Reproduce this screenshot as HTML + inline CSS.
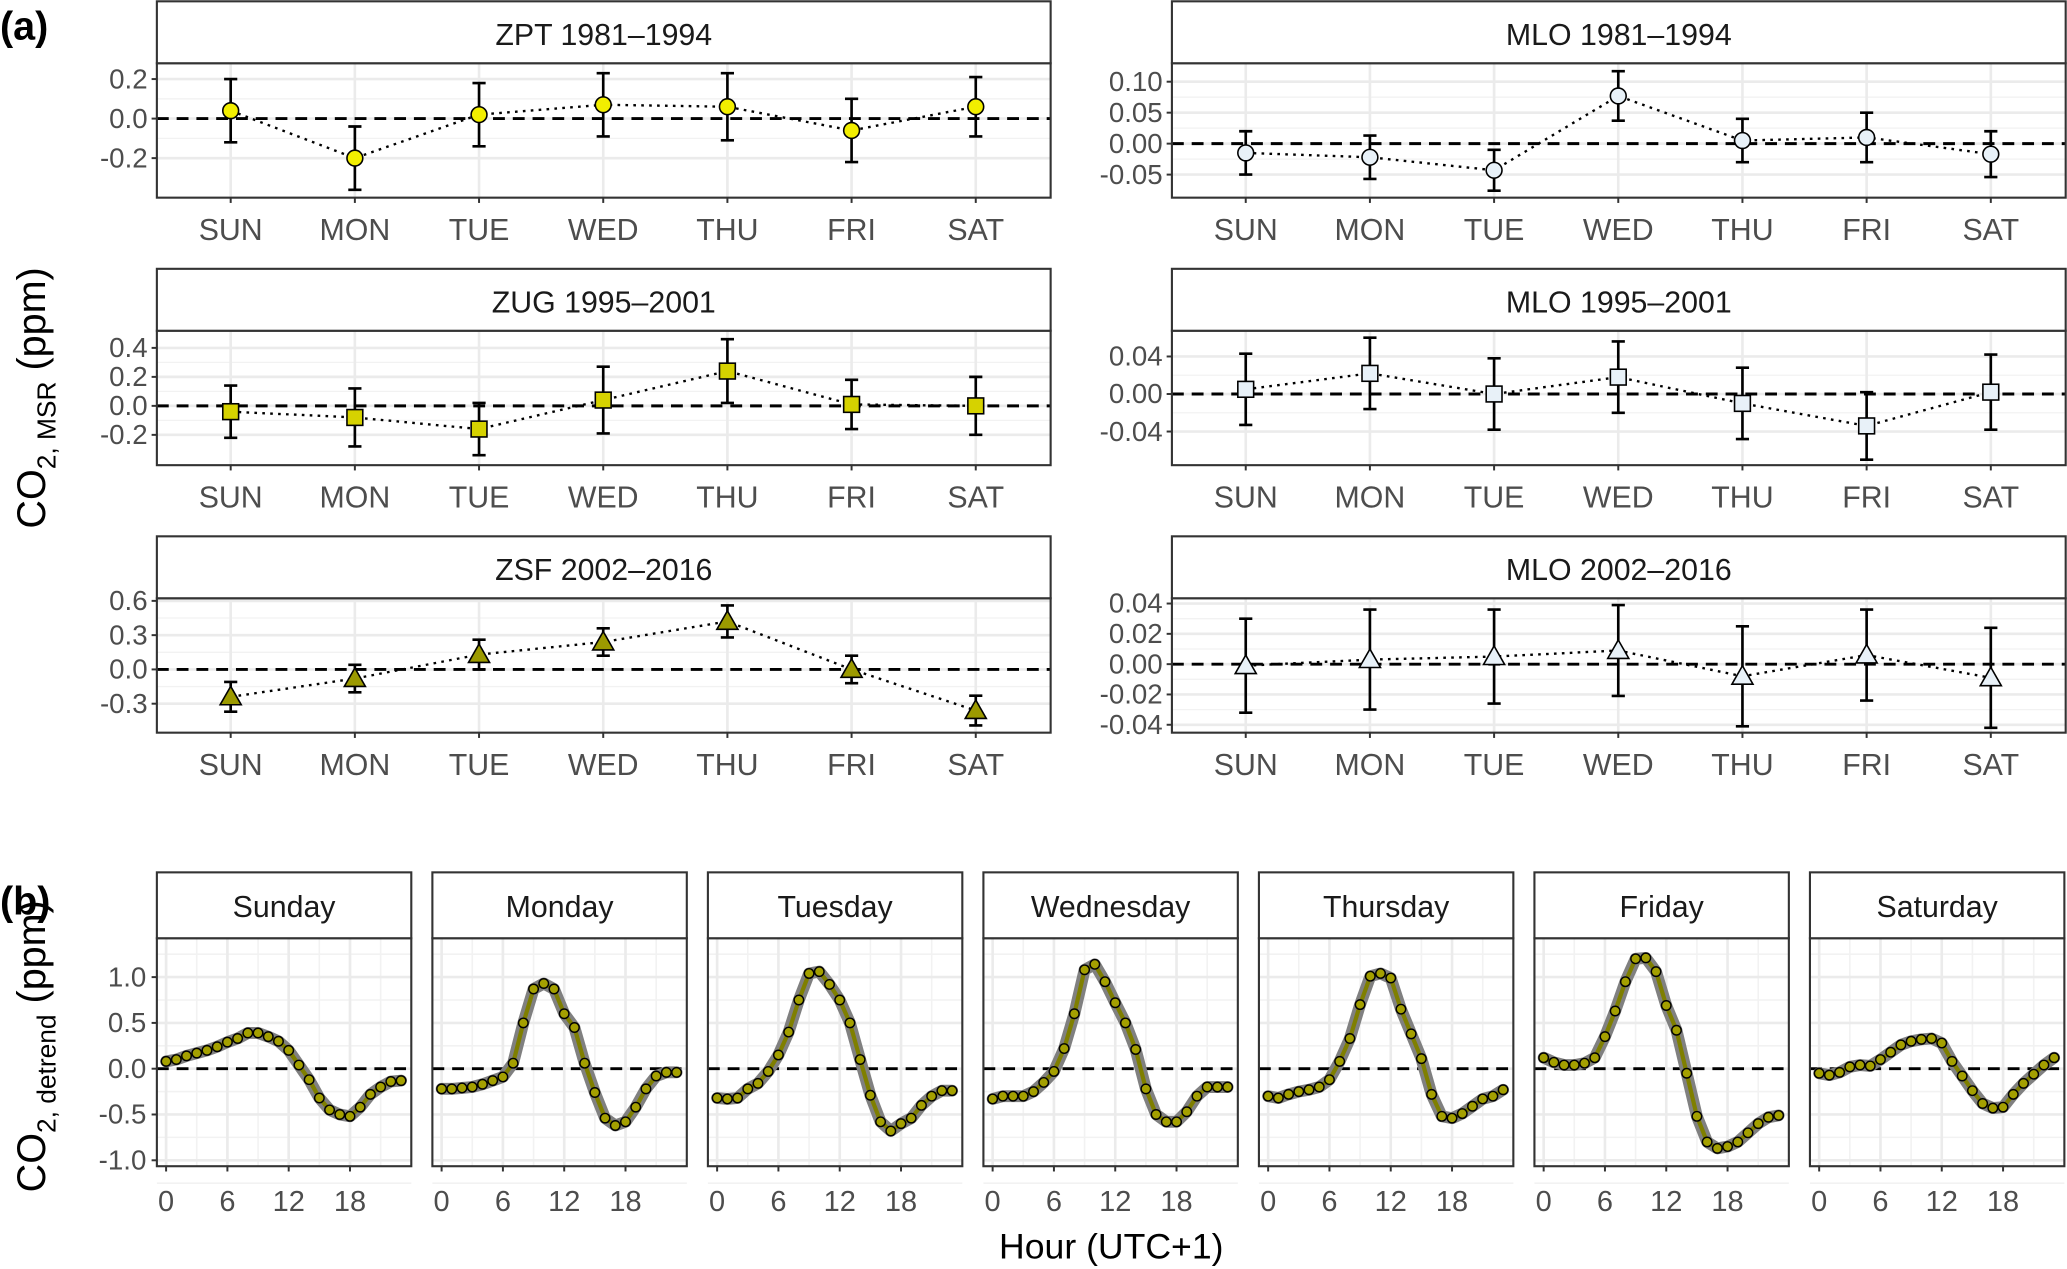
<!DOCTYPE html>
<html><head><meta charset="utf-8"><style>
html,body{margin:0;padding:0;background:#fff;}
svg{display:block;font-family:"Liberation Sans",sans-serif;}
</style></head><body>
<svg id="chart" width="2067" height="1269" viewBox="0 0 1568 963" preserveAspectRatio="none" xmlns="http://www.w3.org/2000/svg">
<text x="0" y="30" font-size="30" font-weight="bold">(a)</text>
<text x="0" y="694" font-size="30" font-weight="bold">(b)</text>
<text transform="translate(34,302) rotate(-90)" text-anchor="middle" font-size="30">CO<tspan font-size="20" dy="8">2, MSR</tspan><tspan dy="-8"> (ppm)</tspan></text>
<text transform="translate(34,794) rotate(-90)" text-anchor="middle" font-size="30">CO<tspan font-size="20" dy="8">2, detrend</tspan><tspan dy="-8"> (ppm)</tspan></text>
<text x="843" y="955" text-anchor="middle" font-size="27">Hour (UTC+1)</text>
</svg>
<script>
const days=["SUN","MON","TUE","WED","THU","FRI","SAT"];
const zptVals=[0.04,-0.20,0.02,0.07,0.06,-0.06,0.06];
const zptErr=[0.16,0.16,0.16,0.16,0.17,0.16,0.15];
const zptTicks=[0.2,0.0,-0.2];
const zugVals=[-0.04,-0.08,-0.16,0.04,0.24,0.01,0.0];
const zugErr=[0.18,0.20,0.18,0.23,0.22,0.17,0.20];
const zugTicks=[0.4,0.2,0.0,-0.2];
const zsfVals=[-0.24,-0.08,0.13,0.24,0.42,0.0,-0.36];
const zsfErr=[0.13,0.12,0.13,0.12,0.14,0.12,0.13];
const zsfTicks=[0.6,0.3,0.0,-0.3];
const mlo1Vals=[-0.015,-0.022,-0.043,0.077,0.005,0.010,-0.017];
const mlo1Err=[0.035,0.035,0.033,0.040,0.035,0.040,0.037];
const mlo1Ticks=[0.10,0.05,0.00,-0.05];
const mlo2Vals=[0.005,0.022,0.0,0.018,-0.010,-0.034,0.002];
const mlo2Err=[0.038,0.038,0.038,0.038,0.038,0.036,0.040];
const mlo2Ticks=[0.04,0.00,-0.04];
const mlo3Vals=[-0.001,0.003,0.005,0.009,-0.008,0.006,-0.009];
const mlo3Err=[0.031,0.033,0.031,0.030,0.033,0.030,0.033];
const mlo3Ticks=[0.04,0.02,0.00,-0.02,-0.04];
const weekdays=["Sunday","Monday","Tuesday","Wednesday","Thursday","Friday","Saturday"];
const sunH=[0.08,0.10,0.14,0.17,0.20,0.24,0.29,0.33,0.39,0.39,0.35,0.30,0.20,0.04,-0.12,-0.32,-0.45,-0.50,-0.52,-0.42,-0.28,-0.20,-0.14,-0.13];
const monH=[-0.22,-0.22,-0.21,-0.20,-0.17,-0.13,-0.09,0.06,0.50,0.87,0.93,0.87,0.60,0.45,0.06,-0.26,-0.54,-0.62,-0.58,-0.42,-0.22,-0.08,-0.04,-0.04];
const tueH=[-0.32,-0.33,-0.32,-0.22,-0.16,-0.03,0.15,0.40,0.75,1.04,1.06,0.92,0.75,0.50,0.10,-0.29,-0.58,-0.68,-0.60,-0.54,-0.40,-0.30,-0.24,-0.24];
const wedH=[-0.33,-0.30,-0.30,-0.30,-0.25,-0.15,-0.03,0.22,0.60,1.08,1.14,0.95,0.72,0.50,0.21,-0.22,-0.50,-0.58,-0.58,-0.47,-0.30,-0.20,-0.20,-0.20];
const thuH=[-0.30,-0.32,-0.28,-0.25,-0.23,-0.20,-0.12,0.08,0.33,0.70,1.01,1.04,0.99,0.65,0.38,0.11,-0.28,-0.52,-0.54,-0.49,-0.41,-0.33,-0.30,-0.23];
const friH=[0.12,0.07,0.04,0.04,0.06,0.12,0.35,0.63,0.95,1.20,1.21,1.06,0.69,0.42,-0.05,-0.52,-0.80,-0.87,-0.85,-0.80,-0.70,-0.60,-0.53,-0.51];
const satH=[-0.05,-0.07,-0.04,0.02,0.04,0.03,0.10,0.18,0.26,0.30,0.32,0.33,0.28,0.08,-0.08,-0.24,-0.38,-0.43,-0.42,-0.28,-0.16,-0.06,0.04,0.12];
const hourTicks=[0,6,12,18];
const detTicks=[1.0,0.5,0.0,-0.5,-1.0];

const svg=document.getElementById('chart');
const NS='http://www.w3.org/2000/svg';
function mk(tag,attrs,parent){const e=document.createElementNS(NS,tag);for(const k in attrs)e.setAttribute(k,attrs[k]);(parent||svg).appendChild(e);return e;}
function fmt(v,d){let s=v.toFixed(d);if(s.startsWith('-0')&&parseFloat(s)===0)s=s.slice(1);return s;}

function panelA(cfg){
  const g=mk('g',{});
  
  
  const L=cfg.left,R=cfg.left+678,T=cfg.top,SB=cfg.top+47,B=cfg.bottom;
  const xs=i=>L+56+i*94.2;
  const ys=v=>cfg.zero-v*cfg.ppu;
  mk('rect',{x:L,y:SB,width:R-L,height:B-SB,fill:'#fff'},g);
  for(let i=0;i<cfg.ticks.length-1;i++){const m=(cfg.ticks[i]+cfg.ticks[i+1])/2;mk('line',{x1:L,x2:R,y1:ys(m),y2:ys(m),stroke:'#f2f2f2','stroke-width':1},g);}
  cfg.ticks.forEach(t=>mk('line',{x1:L,x2:R,y1:ys(t),y2:ys(t),stroke:'#ebebeb','stroke-width':2},g));
  days.forEach((d,i)=>mk('line',{x1:xs(i),x2:xs(i),y1:SB,y2:B,stroke:'#ebebeb','stroke-width':2},g));
  mk('line',{x1:L,x2:R,y1:ys(0),y2:ys(0),stroke:'#000','stroke-width':2.2,'stroke-dasharray':'9,6'},g);
  const pts=cfg.vals.map((v,i)=>xs(i)+','+ys(v)).join(' ');
  const line=mk('polyline',{points:pts,fill:'none',stroke:'#000','stroke-width':1.8,'stroke-dasharray':'2,4'},g);
  
  
  cfg.vals.forEach((v,i)=>{
    const x=xs(i),e=cfg.errs[i];
    const eb=mk('path',{d:`M${x-5},${ys(v+e)}H${x+5}M${x},${ys(v+e)}V${ys(v-e)}M${x-5},${ys(v-e)}H${x+5}`,stroke:'#000','stroke-width':2,fill:'none'},g);
    
    
    let m;const y=ys(v);
    if(cfg.shape==='circle')m=mk('circle',{cx:x,cy:y,r:6},g);
    else if(cfg.shape==='square')m=mk('rect',{x:x-6,y:y-6,width:12,height:12},g);
    else m=mk('polygon',{points:`${x},${y-8} ${x+8},${y+6} ${x-8},${y+6}`},g);
    m.setAttribute('fill',cfg.fill);m.setAttribute('stroke','#000');m.setAttribute('stroke-width',1.2);
    
    
  });
  mk('rect',{x:L,y:SB,width:R-L,height:B-SB,fill:'none',stroke:'#333','stroke-width':1.6},g);
  const st=mk('rect',{x:L,y:T,width:R-L,height:SB-T,fill:'#fff',stroke:'#333','stroke-width':1.6},g);
  
  
  const tt=mk('text',{x:(L+R)/2,y:T+33,'text-anchor':'middle','font-size':23,fill:'#1a1a1a'},g);
  tt.textContent=cfg.title;
  
  
  cfg.ticks.forEach(t=>{
    mk('line',{x1:L-4,x2:L,y1:ys(t),y2:ys(t),stroke:'#333','stroke-width':1.5},g);
    const tx=mk('text',{x:L-7,y:ys(t)+7,'text-anchor':'end','font-size':21,fill:'#4d4d4d'},g);
    tx.textContent=fmt(t,cfg.dec);
    
    
  });
  days.forEach((d,i)=>{
    mk('line',{x1:xs(i),x2:xs(i),y1:B,y2:B+4,stroke:'#333','stroke-width':1.5},g);
    const tx=mk('text',{x:xs(i),y:B+32,'text-anchor':'middle','font-size':23,fill:'#4d4d4d'},g);
    tx.textContent=d;
    
    
  });
}
panelA({name:'zpt-panel',title:'ZPT 1981–1994',left:119,top:1,bottom:150,zero:90,ppu:150,ticks:zptTicks,dec:1,vals:zptVals,errs:zptErr,shape:'circle',fill:'#f2ee00'});
panelA({name:'zug-panel',title:'ZUG 1995–2001',left:119,top:204,bottom:353,zero:308,ppu:110,ticks:zugTicks,dec:1,vals:zugVals,errs:zugErr,shape:'square',fill:'#d6d200'});
panelA({name:'zsf-panel',title:'ZSF 2002–2016',left:119,top:407,bottom:556,zero:508,ppu:86.7,ticks:zsfTicks,dec:1,vals:zsfVals,errs:zsfErr,shape:'tri',fill:'#9c9a00'});
panelA({name:'mlo-1981-panel',title:'MLO 1981–1994',left:889,top:1,bottom:150,zero:109,ppu:470,ticks:mlo1Ticks,dec:2,vals:mlo1Vals,errs:mlo1Err,shape:'circle',fill:'#e8f1f8'});
panelA({name:'mlo-1995-panel',title:'MLO 1995–2001',left:889,top:204,bottom:353,zero:299,ppu:712,ticks:mlo2Ticks,dec:2,vals:mlo2Vals,errs:mlo2Err,shape:'square',fill:'#e8f1f8'});
panelA({name:'mlo-2002-panel',title:'MLO 2002–2016',left:889,top:407,bottom:556,zero:504,ppu:1150,ticks:mlo3Ticks,dec:2,vals:mlo3Vals,errs:mlo3Err,shape:'tri',fill:'#e8f1f8'});

const hourly=[sunH,monH,tueH,wedH,thuH,friH,satH];
const lefts=[119,328,537,746,955,1164,1373];
hourly.forEach((data,k)=>{
  const g=mk('g',{});
  
  
  const L=lefts[k],R=L+193,T=662,SB=712,B=885;
  const xs=h=>L+7+h*7.75;
  const ys=v=>811-v*69.5;
  for(let v=-1.25;v<=1.3;v+=0.5)mk('line',{x1:L,x2:R,y1:ys(v),y2:ys(v),stroke:'#f2f2f2','stroke-width':1.2},g);
  [3,9,15,21].forEach(h=>mk('line',{x1:xs(h),x2:xs(h),y1:SB,y2:B,stroke:'#f2f2f2','stroke-width':1.2},g));
  detTicks.forEach(t=>mk('line',{x1:L,x2:R,y1:ys(t),y2:ys(t),stroke:'#ebebeb','stroke-width':2},g));
  hourTicks.forEach(h=>mk('line',{x1:xs(h),x2:xs(h),y1:SB,y2:B,stroke:'#ebebeb','stroke-width':2},g));
  mk('line',{x1:L,x2:R,y1:ys(0),y2:ys(0),stroke:'#000','stroke-width':2.2,'stroke-dasharray':'9,6'},g);
  const band=mk('polyline',{points:data.map((v,h)=>xs(h)+','+ys(v)).join(' '),fill:'none',stroke:'#808080','stroke-width':9,'stroke-linejoin':'round','stroke-linecap':'round'},g);
  
  
  const ln=mk('polyline',{points:data.map((v,h)=>xs(h)+','+ys(v)).join(' '),fill:'none',stroke:'#7f7f00','stroke-width':3.2,'stroke-linejoin':'round'},g);
  
  
  data.forEach((v,h)=>{
    const c=mk('circle',{cx:xs(h),cy:ys(v),r:3.6,fill:'#a4a000',stroke:'#000','stroke-width':1.1},g);
    
    
  });
  mk('rect',{x:L,y:SB,width:R-L,height:B-SB,fill:'none',stroke:'#333','stroke-width':1.6},g);
  const st=mk('rect',{x:L,y:T,width:R-L,height:SB-T,fill:'#fff',stroke:'#333','stroke-width':1.6},g);
  
  
  const tt=mk('text',{x:(L+R)/2,y:T+34,'text-anchor':'middle','font-size':23,fill:'#1a1a1a'},g);
  tt.textContent=weekdays[k];
  
  
  hourTicks.forEach(h=>{
    mk('line',{x1:xs(h),x2:xs(h),y1:B,y2:B+4,stroke:'#333','stroke-width':1.5},g);
    const tx=mk('text',{x:xs(h),y:B+34,'text-anchor':'middle','font-size':22,fill:'#4d4d4d'},g);
    tx.textContent=String(h);
    
    
  });
  if(k===0){
    detTicks.forEach(t=>{
      mk('line',{x1:L-4,x2:L,y1:ys(t),y2:ys(t),stroke:'#333','stroke-width':1.5},g);
      const tx=mk('text',{x:L-8,y:ys(t)+7,'text-anchor':'end','font-size':21,fill:'#4d4d4d'},g);
      tx.textContent=t.toFixed(1);
      
      
    });
  }
});
</script>
</body></html>
